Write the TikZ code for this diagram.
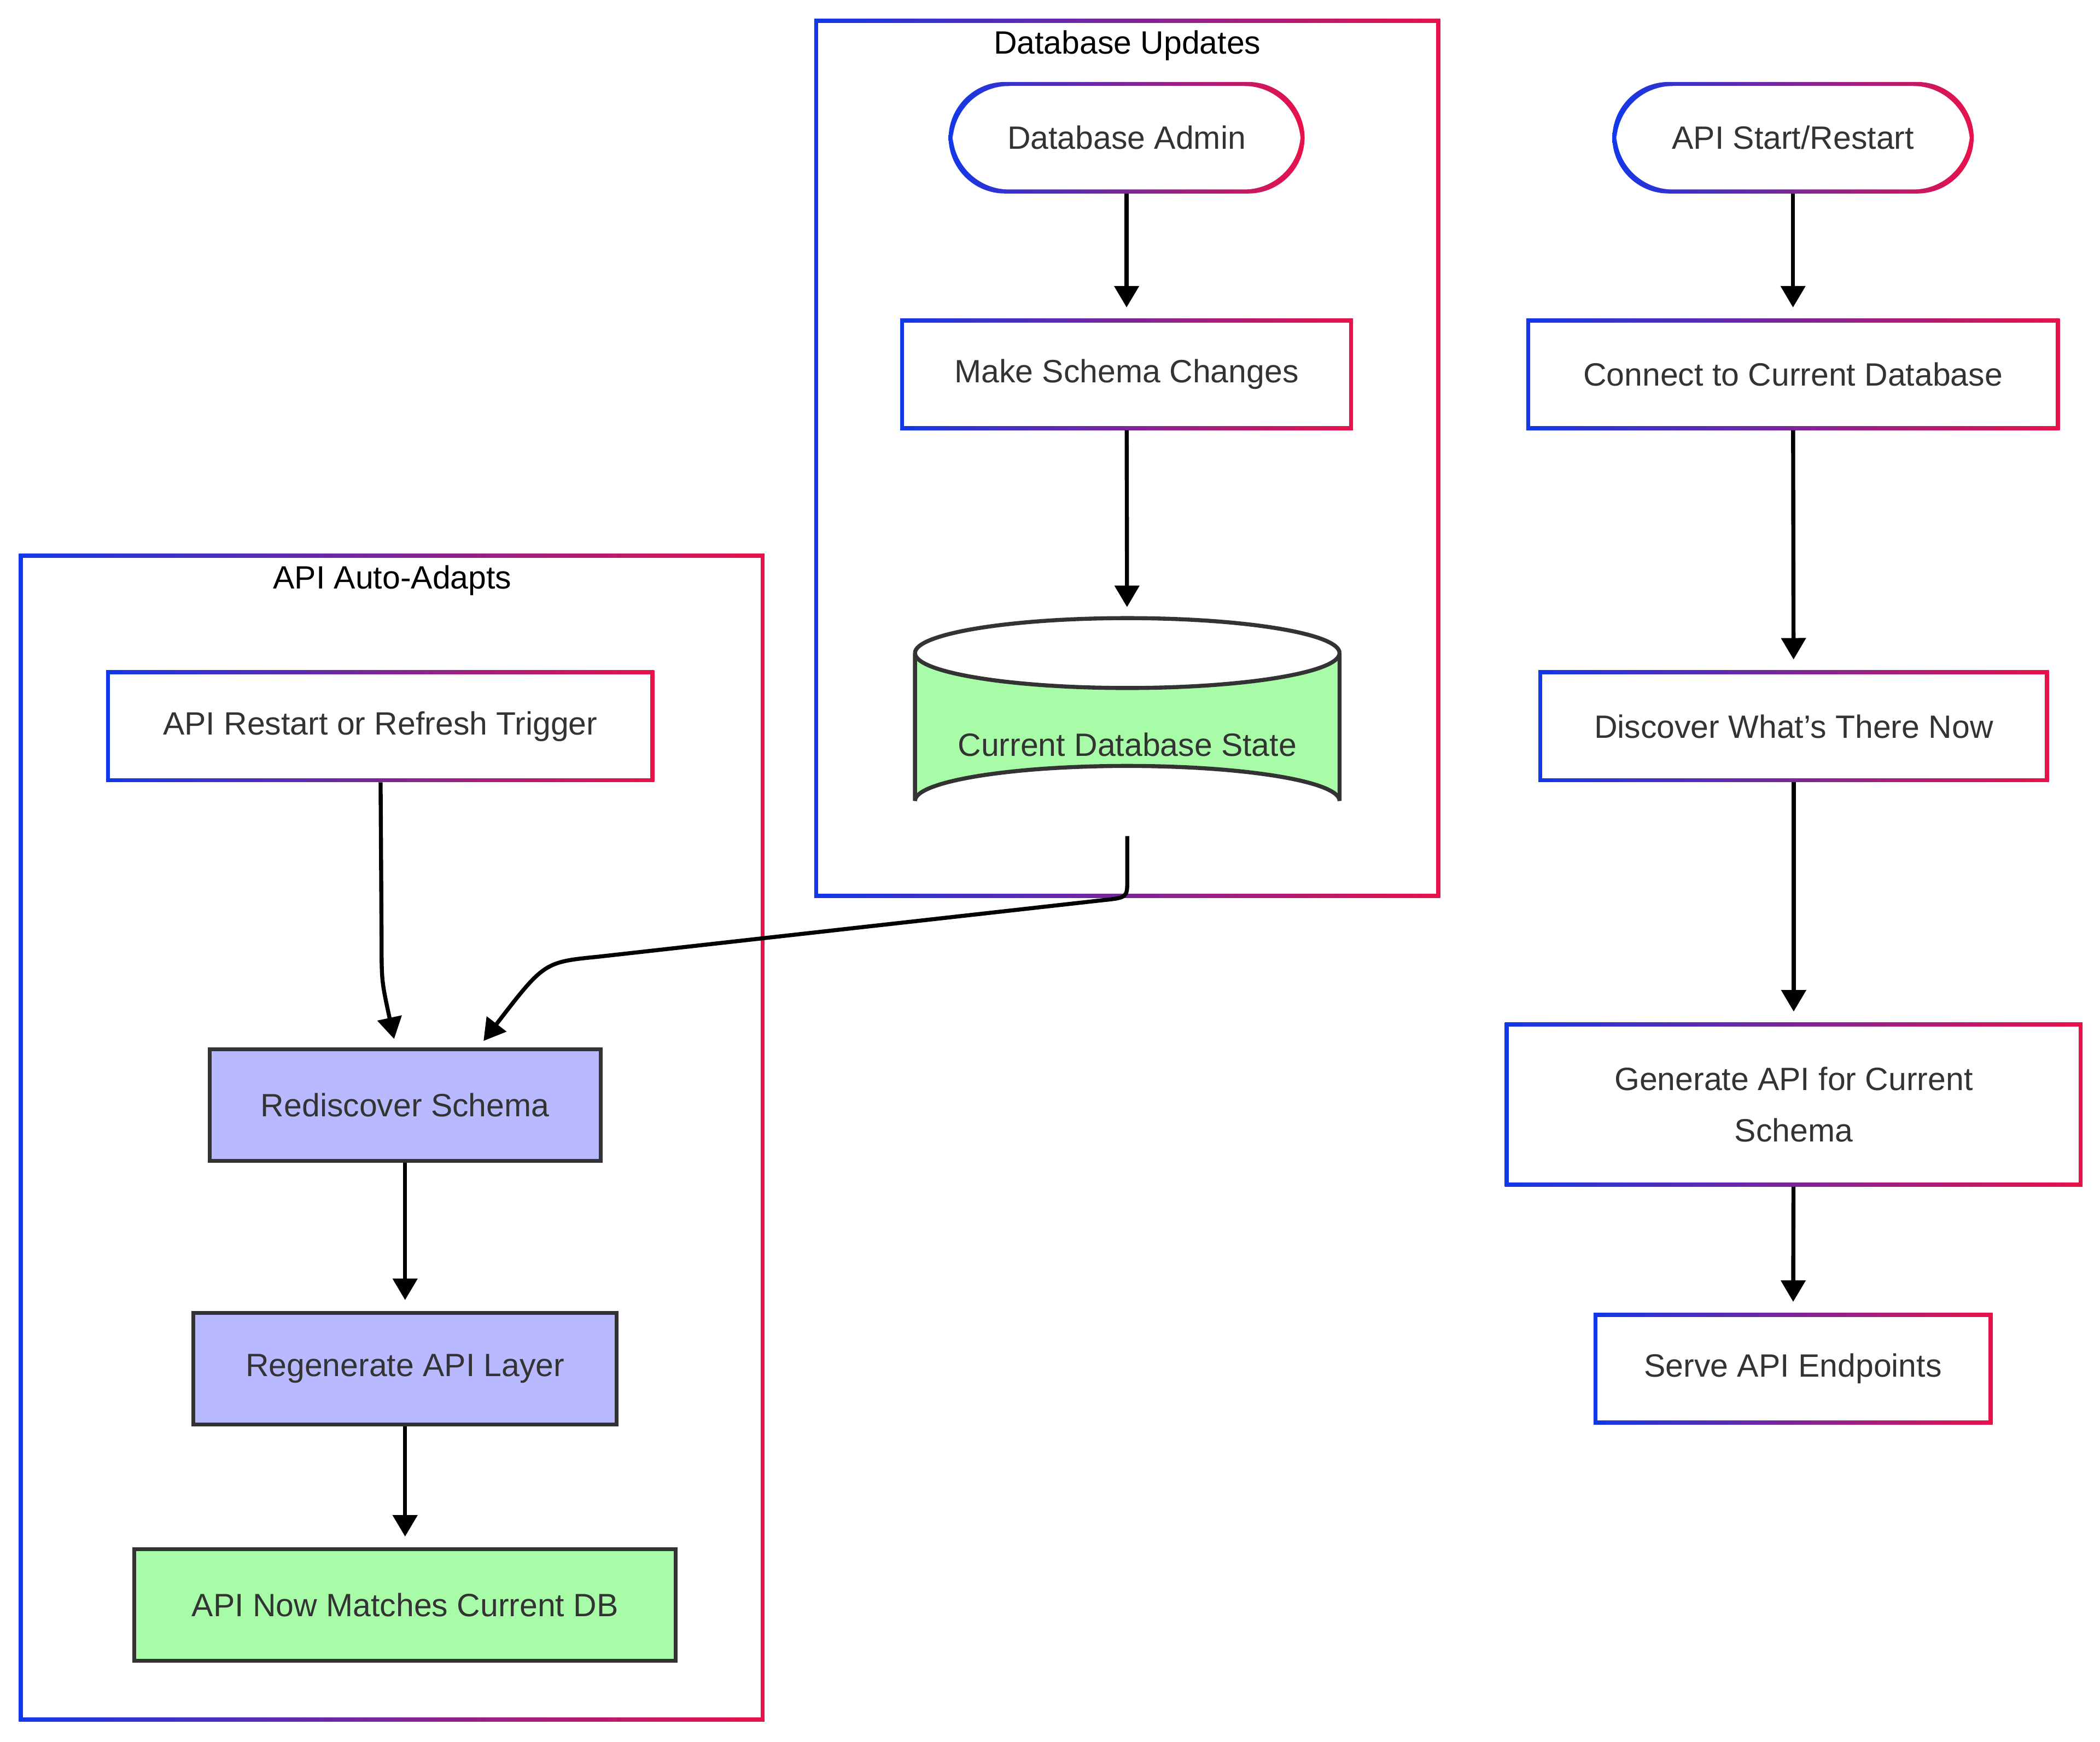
\documentclass[tikz,border=0pt]{standalone}
\usepackage{fontspec}
\setmainfont{Liberation Sans}
\usetikzlibrary{calc,fit,arrows.meta}
\definecolor{gblue}{HTML}{1238E8}
\definecolor{gred}{HTML}{E8124A}
\definecolor{txtc}{HTML}{333333}
\definecolor{lgreen}{HTML}{A8FCA8}
\definecolor{lviolet}{HTML}{B9B9FF}
\tikzset{
  txt/.style={text=txtc,font=\fontsize{24}{38}\selectfont,align=center,inner sep=0pt},
  ttl/.style={text=black,font=\fontsize{24}{30}\selectfont,inner sep=0pt},
  fbox/.style={draw=txtc,line width=3pt,txt},
  arr/.style={draw=black,line width=3pt,-{Triangle[length=16pt,width=18pt]},shorten >=8pt}
}
% gradient outlined box: [radius]{name}{x1}{y1}{x2}{y2}{text}
\newcommand\gbox[7][0pt]{%
  \shade[left color=gblue,right color=gred,rounded corners=#1] (#3,#4) rectangle (#5,#6);
  \fill[white,rounded corners=#1] ($(#3,#4)+(3,3)$) rectangle ($(#5,#6)+(-3,-3)$);
  \path (#3,#4) coordinate (#2-nw) (#5,#6) coordinate (#2-se);
  \node[inner sep=0pt,fit=(#2-nw)(#2-se)] (#2) {};
  \node[txt] at (#2.center) {#7};}
\begin{document}
\begin{tikzpicture}[x=1pt,y=1pt,yscale=-1]
\useasboundingbox[fill=white] (0,0) rectangle (1563,1296);

% frames
\gbox{dbframe}{606}{14}{1072}{668}{}
\node[ttl] (dbtitle) at (839,34) {Database Updates};
\gbox{apiframe}{14}{412}{569}{1281}{}
\node[ttl] (apititle) at (292,432) {API Auto-Adapts};

% database updates
\gbox[42pt]{admin}{706}{61}{971}{144}{Database Admin}
\gbox{changes}{670}{237}{1007}{320}{Make Schema Changes}
\filldraw[fill=lgreen,draw=txtc,line width=3pt]
  (681,486) -- (681,596) arc[start angle=180,end angle=360,x radius=158,y radius=26]
  -- (997,486) arc[start angle=0,end angle=180,x radius=158,y radius=26] -- cycle;
\draw[txtc,line width=3pt] (681,486) arc[start angle=180,end angle=360,x radius=158,y radius=26];
\node[inner sep=0pt,minimum width=316pt,minimum height=162pt] (dbstate) at (839,541) {};
\node[txt] at (839,554) {Current Database State};

% startup flow
\gbox[42pt]{start}{1200}{61}{1469}{144}{API Start/Restart}
\gbox{connect}{1136}{237}{1533}{320}{Connect to Current Database}
\gbox{discover}{1145}{499}{1525}{582}{Discover What's There Now}
\gbox{generate}{1120}{761}{1550}{883}{Generate API for Current\\Schema}
\gbox{serve}{1186}{977}{1483}{1060}{Serve API Endpoints}

% auto-adapt flow
\gbox{trigger}{79}{499}{487}{582}{API Restart or Refresh Trigger}
\node[fbox,fill=lviolet,minimum width=291pt,minimum height=83pt] (redisc) at (301.5,822.5) {Rediscover Schema};
\node[fbox,fill=lviolet,minimum width=315pt,minimum height=83pt] (regen) at (301.5,1018.5) {Regenerate API Layer};
\node[fbox,fill=lgreen,minimum width=403pt,minimum height=83pt] (matches) at (301.5,1194.5) {API Now Matches Current DB};

% connectors
\draw[arr] (admin) -- (changes);
\draw[arr] (changes) -- (dbstate);
\draw[arr] (start) -- (connect);
\draw[arr] (connect) -- (discover);
\draw[arr] (discover) -- (generate);
\draw[arr] (generate) -- (serve);
\draw[arr] (redisc) -- (regen);
\draw[arr] (regen) -- (matches);
\draw[arr] (trigger) -- (284,700) .. controls (284,730) .. (295,781);
\draw[arr] (dbstate.south) -- (839,655) .. controls (839,668) .. (820,670)
  -- (445,712) .. controls (405,716) .. (355,781);
\end{tikzpicture}
\end{document}
